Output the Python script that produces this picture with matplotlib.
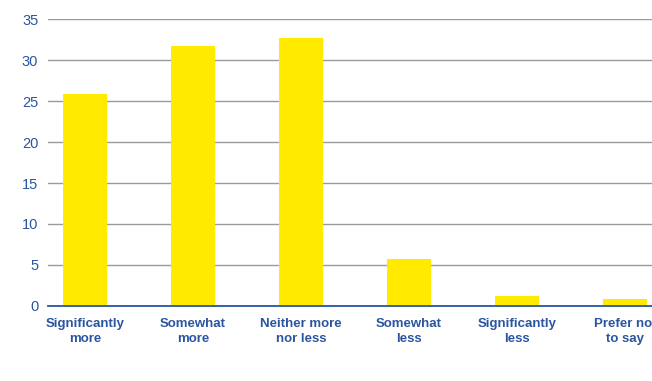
import matplotlib.pyplot as plt

# ── Data ──────────────────────────────────────────────────────────────────────
categories = ['Significantly\nmore', 'Somewhat\nmore', 'Neither more\nnor less',
              'Somewhat\nless', 'Significantly\nless', 'Prefer not\nto say']
values = [25.9, 31.7, 32.7, 5.7, 1.2, 0.8]
yticks = [0, 5, 10, 15, 20, 25, 30, 35]

blue = '#2b55a0'
yellow = '#ffea00'

# ── Figure ────────────────────────────────────────────────────────────────────
fig = plt.figure(figsize=(6.52, 3.81), dpi=100)
ax = fig.add_axes([0.0736, 0.1976, 0.9264, 0.7514])

x = range(len(categories))
ax.bar(x, values, width=0.41, color=yellow, zorder=3)

ax.set_ylim(0, 35)
ax.set_xlim(-0.343, 5.25)
ax.set_yticks(yticks)
ax.set_xticks(list(x))
ax.set_xticklabels(categories, fontsize=9.5, fontweight='bold', color=blue,
                   family='Liberation Sans', linespacing=1.3)
ax.set_yticklabels([str(t) for t in yticks], fontsize=10.5, color=blue,
                   family='Liberation Sans')
ax.tick_params(axis='both', length=0)
ax.tick_params(axis='x', pad=9)
ax.tick_params(axis='y', pad=7)

ax.grid(axis='y', color='#9a9a9a', linewidth=1.0, zorder=0)
for s in ['top', 'right', 'left']:
    ax.spines[s].set_visible(False)
ax.spines['bottom'].set_color(blue)
ax.spines['bottom'].set_linewidth(1.3)
ax.spines['bottom'].set_zorder(4)

plt.savefig('out.png', dpi=100)
plt.close()
